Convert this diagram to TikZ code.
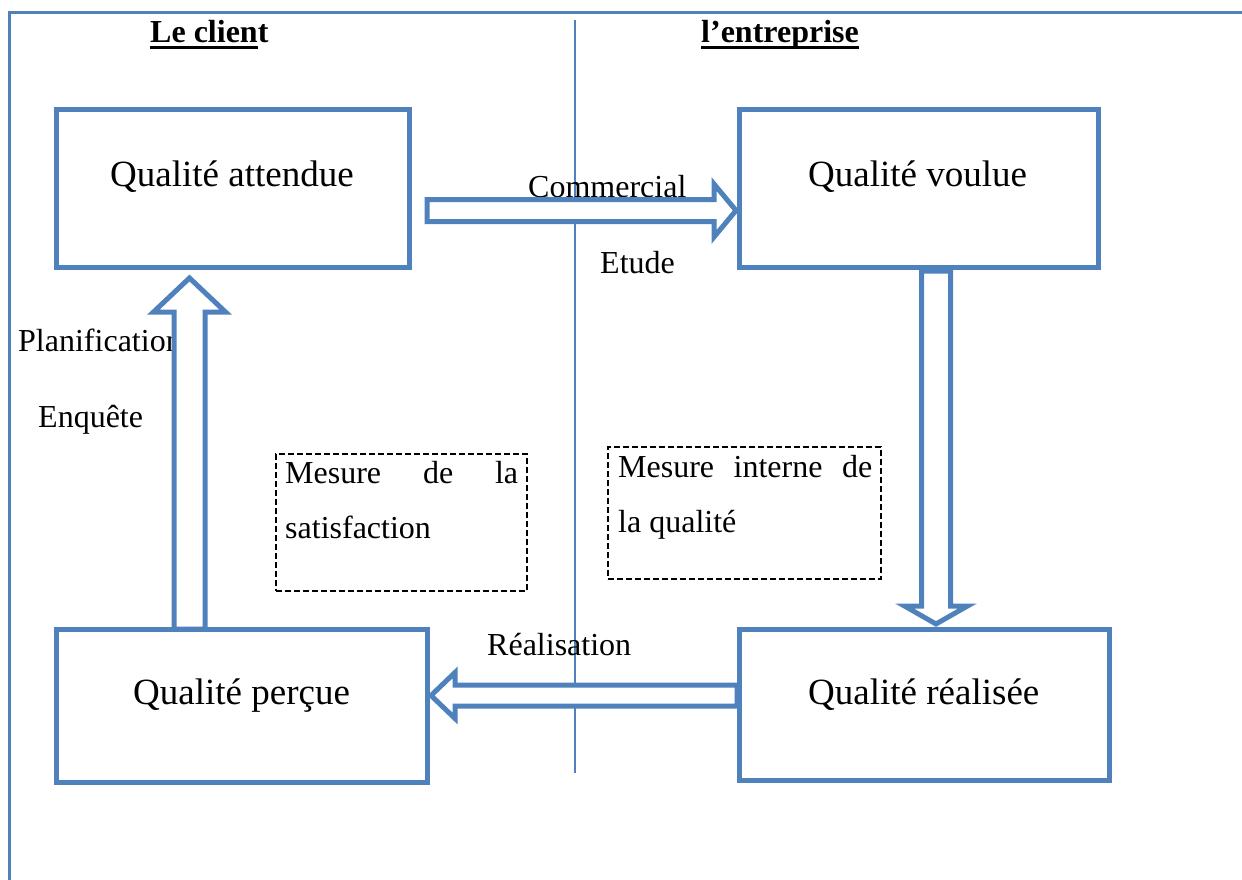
\documentclass[tikz,border=0pt]{standalone}
\usepackage{fontspec}
\setmainfont{Liberation Serif}
\usetikzlibrary{calc}
\definecolor{ofblue}{RGB}{79,129,189}

% underline drawn as a thick rule below the baseline
\newcommand\thickul[1]{\setbox0\hbox{#1}\rlap{\rule[-6.5pt]{\wd0}{3pt}}\box0}

% hollow block arrow: tail, tip, half shaft, half head, head length
\newcommand\blockarrow[5]{%
  \path coordinate (hb) at ($(#2)!#5pt!(#1)$);
  \draw[barrow] ($(#1)!#3pt!90:(#2)$) -- ($(hb)!#3pt!90:(#2)$)
    -- ($(hb)!#4pt!90:(#2)$) -- (#2) -- ($(hb)!#4pt!-90:(#2)$)
    -- ($(hb)!#3pt!-90:(#2)$) -- ($(#1)!#3pt!-90:(#2)$) -- cycle;}

\tikzset{
  qbox/.style={draw=ofblue, line width=5pt, inner sep=0pt},
  barrow/.style={draw=ofblue, fill=white, line width=5pt, line join=miter},
  mbox/.style={draw=black, line width=2pt, dash pattern=on 6pt off 3pt, inner sep=0pt},
  big/.style={inner sep=0pt, anchor=base west, font=\fontsize{37}{44}\selectfont},
  lab/.style={inner sep=0pt, anchor=base west, font=\fontsize{32}{38}\selectfont},
  head/.style={inner sep=0pt, anchor=base west, font=\fontsize{32}{38}\selectfont\bfseries},
}

\begin{document}
\begin{tikzpicture}[x=1pt, y=-1pt]
\useasboundingbox (0,0) rectangle (1242,880);

% frame and separating line
\draw[ofblue, line width=3pt] (9,880) -- (9,13) -- (1242,13);
\draw[ofblue, line width=1.5pt] (575,20) -- (575,773);

% column headings
\node[head] (hcl) at (150,43) {\thickul{Le clien}t};
\node[head] (hen) at (701,43) {\thickul{l’entreprise}};

% arrow labels
\node[lab] (lcom) at (528,197) {Commercial};
\node[lab] (letu) at (600,273) {Etude};
\node[lab] (lpla) at (18,351) {Planification};
\node[lab] (lenq) at (38,427) {Enquête};
\node[lab] (lrea) at (487,655) {Réalisation};

% quality boxes
\node[qbox, minimum width=353pt, minimum height=158pt] (att) at (233,188.5) {};
\node[qbox, minimum width=359pt, minimum height=158pt] (vou) at (919,188.5) {};
\node[qbox, minimum width=371pt, minimum height=153pt] (per) at (242,706) {};
\node[qbox, minimum width=370pt, minimum height=151pt] (rea) at (924.5,705) {};

% arrow end points
\coordinate (cA) at (att.east |- 0,210.5);
\coordinate (cB) at (736,210.5);
\coordinate (dA) at (936,271);
\coordinate (dB) at (936,624);
\coordinate (lA) at (rea.west |- 0,695.5);
\coordinate (lB) at (431,695.5);
\coordinate (uA) at (189.5,629);
\coordinate (uB) at (189.5,278);

\blockarrow{$(cA)+(15,0)$}{cB}{11}{26.5}{22}
\blockarrow{dA}{dB}{14.5}{31.5}{18}
\blockarrow{lA}{lB}{10.5}{23}{24}
\blockarrow{uA}{uB}{15.5}{36}{34}

% box titles
\node[big] (tatt) at (110,186) {Qualité attendue};
\node[big] (tvou) at (808,186) {Qualité voulue};
\node[big] (tper) at (133,704) {Qualité perçue};
\node[big] (trea) at (808,704) {Qualité réalisée};

% measurement boxes
\node[mbox, minimum width=251pt, minimum height=137pt] (msat) at (401.5,522.5) {};
\node[mbox, minimum width=273pt, minimum height=132pt] (mint) at (744.5,513) {};
\node[lab] (msat1) at (285,483) {\makebox[233pt][s]{Mesure\hfill de\hfill la}};
\node[lab] (msat2) at (285,538) {satisfaction};
\node[lab] (mint1) at (618,477) {\makebox[254pt][s]{Mesure\hfill interne\hfill de}};
\node[lab] (mint2) at (618,532) {la qualité};
\end{tikzpicture}
\end{document}
